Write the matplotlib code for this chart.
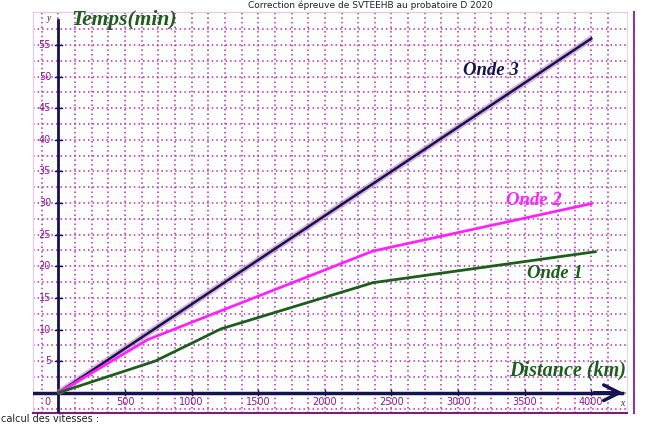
import numpy as np
import matplotlib.pyplot as plt

# ----------------------------
# data
# ----------------------------
d1 = [0, 725, 1220, 2360, 4030]
t1 = [0, 5.0, 10.1, 17.4, 22.3]

d2 = [0, 670, 2360, 4000]
t2 = [0, 8.4, 22.4, 29.9]

d3 = [0, 4000]
t3 = [0, 56]

xticks = [500, 1000, 1500, 2000, 2500, 3000, 3500, 4000]
yticks = [5, 10, 15, 20, 25, 30, 35, 40, 45, 50, 55]

navy = '#141450'
purple = '#8e1a8e'
green = '#1d5e1d'
magenta = '#ff22ff'
serif = ['Liberation Serif', 'DejaVu Serif']

fig = plt.figure(figsize=(6.62, 4.24), dpi=100)
ax = fig.add_axes([33/662, 11/424, 594/662, 401/424])
ax.set_xlim(-191, 4268)
ax.set_ylim(-3.2, 60.2)
ax.set_xticks([])
ax.set_yticks([])
for s in ['top', 'left']:
    ax.spines[s].set_color('#e6c8e6')
ax.spines['right'].set_color('#dddddd')
ax.spines['bottom'].set_color('#7a207a')
ax.spines['bottom'].set_linewidth(1.5)

# dotted grid
for gx in np.arange(-125, 4200, 125):
    ax.axvline(gx, color='#b42cb4', lw=1.1, ls=(0, (1, 2)), zorder=1)
for gy in np.arange(-2.5, 60, 2.5):
    ax.axhline(gy, color='#b42cb4', lw=1.1, ls=(0, (1, 2)), zorder=1)

# axes with arrows
ax.plot([0, 0], [-3.2, 59], color=navy, lw=2, zorder=3)
ax.plot([-191, 4230], [0, 0], color=navy, lw=2.5, zorder=3)
ax.annotate('', xy=(0, 60.3), xytext=(0, 57), arrowprops=dict(arrowstyle='->', color=navy, lw=1.6, mutation_scale=14), zorder=4)
ax.annotate('', xy=(4260, 0), xytext=(4000, 0), arrowprops=dict(arrowstyle='->', color=navy, lw=2.5, mutation_scale=28), zorder=4)

# ticks and labels
for v in xticks:
    ax.plot([v, v], [-0.4, 0.4], color=navy, lw=1, zorder=3)
    ax.text(v, -1.4, str(v), color=purple, fontsize=7, ha='center', va='center', zorder=2)
for v in yticks:
    ax.plot([-25, 25], [v, v], color=navy, lw=1, zorder=3)
    ax.text(-55, v, str(v), color=purple, fontsize=7, ha='right', va='center', zorder=2)
ax.text(-60, -1.4, '0', color=purple, fontsize=7, ha='right', va='center')
ax.text(-70, 59.2, 'y', color='#333333', fontsize=7, style='italic', family=serif, ha='center', va='center')
ax.text(4235, -1.7, 'x', color='#333333', fontsize=7, style='italic', family=serif, ha='center', va='center')

# curves
ax.plot(d3, t3, color='#c080c0', lw=4.5, alpha=0.6, zorder=4, solid_capstyle='butt')
ax.plot(d3, t3, color=navy, lw=1.8, zorder=5)
ax.plot(d2, t2, color=magenta, lw=2, zorder=5)
ax.plot(d1, t1, color=green, lw=2, zorder=5)

# labels
ax.text(95, 58.9, 'Temps(min)', color=green, fontsize=15.5, weight='bold', style='italic', family=serif, va='center', ha='left')
ax.text(4262, 3.6, 'Distance (km)', color=green, fontsize=14.5, weight='bold', style='italic', family=serif, va='center', ha='right')
ax.text(3040, 50.9, 'Onde 3', color=navy, fontsize=13.5, weight='bold', style='italic', family=serif, va='center', ha='left')
ax.text(3360, 30.4, 'Onde 2', color=magenta, fontsize=13.5, weight='bold', style='italic', family=serif, va='center', ha='left')
ax.text(3520, 18.8, 'Onde 1', color=green, fontsize=13.5, weight='bold', style='italic', family=serif, va='center', ha='left')

# page fragments around the chart
fig.text(0.56, 0.999, 'Correction épreuve de SVTEEHB au probatoire D 2020', fontsize=6.5, ha='center', va='top', color='#222222')
fig.text(0.002, 0.001, 'calcul des vitesses :', fontsize=7, ha='left', va='bottom', color='#222222')
fig.add_artist(plt.Line2D([634/662, 634/662], [11/424, 412/424], color='#8a3a9a', lw=1.5))

fig.savefig('out.png', dpi=100)
